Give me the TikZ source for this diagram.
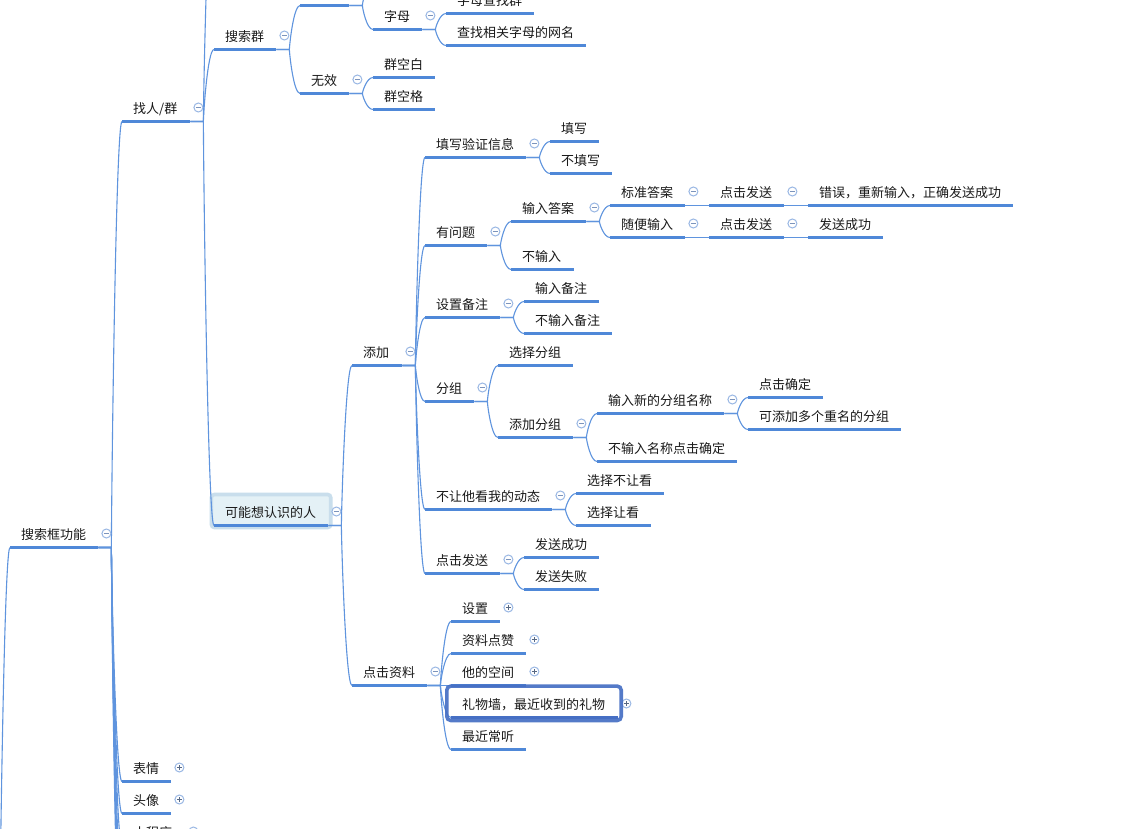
\documentclass[tikz,border=0pt]{standalone}
\usepackage{fontspec}
\setmainfont{Noto Sans CJK SC}
\usetikzlibrary{calc}
\definecolor{barblue}{HTML}{4F88D8}
\definecolor{curveblue}{HTML}{5F94DE}
\definecolor{togblue}{HTML}{9AB8E4}
\definecolor{togmark}{HTML}{7C94BC}
\definecolor{hlfill}{HTML}{E4F1F6}
\definecolor{hlline}{HTML}{C9DEEC}
\definecolor{selline}{HTML}{466FC4}
\tikzset{
  topic/.style={anchor=south west,inner xsep=11pt,inner ysep=0pt,text height=11pt,text depth=8pt,
    align=left,font=\fontsize{13pt}{13pt}\selectfont,text=black!90},
  bar/.style={draw=barblue,line width=3pt},
  curve/.style={draw=curveblue,line width=1.1pt},
  togbase/.style={circle,draw=togblue,line width=1pt,fill=white,minimum size=9pt,inner sep=0pt},
  togm/.style={togbase,path picture={\draw[togmark,line width=0.8pt]
    ([xshift=-2.6pt]path picture bounding box.center)--([xshift=2.6pt]path picture bounding box.center);}},
  togp/.style={togbase,path picture={\draw[togmark!70!black,line width=0.8pt]
    ([xshift=-2.6pt]path picture bounding box.center)--([xshift=2.6pt]path picture bounding box.center)
    ([yshift=-2.6pt]path picture bounding box.center)--([yshift=2.6pt]path picture bounding box.center);}},
  hlbox/.style={draw=hlline,fill=hlfill,line width=3.6pt,rounded corners=3pt,inner sep=0pt,anchor=north west},
  selbox/.style={draw=selline,line width=3.6pt,rounded corners=4pt,inner sep=0pt,anchor=north west,draw opacity=.92},
}
% a topic: name, bar start, bar end, bar height, text
\newcommand\topic[5]{%
  \node[topic,text width={(#3-#2-22)*1pt}] (#1) at ({#2-0.5},#4) {\mbox{#5}};
  \draw[bar] (#1.south west) -- (#1.south east);}
\newcommand\tog[2]{\node[tog#1] (#2t) at ([xshift=8pt,yshift=14pt]#2.south east) {};}
% connector between two anchors: stub, then the long curve
\newcommand\lnkraw[2]{%
  \draw[curve] let \p1=(#1), \p2=(#2), \n1={\x1+13pt} in
    (\x1,\y1) -- (\n1,\y1)
    .. controls (\n1,{\y1+0.1*(\y2-\y1)}) and ({\n1+0.4*(\x2-\n1)},\y2) .. (\x2,\y2);}
\newcommand\lnk[2]{\lnkraw{#1.south east}{#2.south west}}
\begin{document}
\begin{tikzpicture}[x=1pt,y=-1pt]
\useasboundingbox (0,0) rectangle (1127,829);
\clip (0,0) rectangle (1127,829);
\fill[white] (0,0) rectangle (1127,829);

\node[hlbox,minimum width=119.3pt,minimum height=33pt] (hl) at (209.6,492.7) {};

% free ends beyond the edge of the view
\coordinate (offroot) at (-15,1100);
\coordinate (offa) at (214,-126);
\coordinate (offb) at (373,-19);
\coordinate (offc) at (122,877);
\coordinate (offd) at (122,909);
\coordinate (offe) at (122,941);
\coordinate (offf) at (122,973);

\topic{root}{10.5}{98.5}{547.5}{搜索框功能}
\topic{find}{122.5}{190.5}{121.5}{找人/群}
\topic{qun}{214.5}{276.5}{49.5}{搜索群}
\topic{blank}{300.5}{349.5}{5.5}{}
\topic{zimu}{373.5}{422.5}{29.5}{字母}
\topic{zimua}{446.5}{534.5}{13.5}{字母查找群}
\topic{zimub}{446.5}{586.5}{45.5}{查找相关字母的网名}
\topic{wux}{300.5}{349.5}{93.5}{无效}
\topic{kb}{373.5}{435.5}{77.5}{群空白}
\topic{kg}{373.5}{435.5}{109.5}{群空格}

\topic{may}{214.5}{328.5}{525.5}{可能想认识的人}
\topic{add}{352.5}{402.5}{365.5}{添加}
\topic{info}{425.5}{526.5}{157.5}{填写验证信息}
\topic{fill}{550.5}{599.5}{141.5}{填写}
\topic{nofill}{550.5}{612.5}{173.5}{不填写}
\topic{ask}{425.5}{487.5}{245.5}{有问题}
\topic{ans}{511.5}{586.5}{221.5}{输入答案}
\topic{noans}{511.5}{574.5}{269.5}{不输入}
\topic{std}{610.5}{685.5}{205.5}{标准答案}
\topic{stda}{709.5}{784.5}{205.5}{点击发送}
\topic{err}{808.5}{1013.5}{205.5}{错误，重新输入，正确发送成功}
\topic{rnd}{610.5}{685.5}{237.5}{随便输入}
\topic{rnda}{709.5}{784.5}{237.5}{点击发送}
\topic{rndb}{808.5}{883.5}{237.5}{发送成功}
\topic{memo}{425.5}{500.5}{317.5}{设置备注}
\topic{memoa}{524.5}{599.5}{301.5}{输入备注}
\topic{memob}{524.5}{612.5}{333.5}{不输入备注}
\topic{grp}{425.5}{474.5}{401.5}{分组}
\topic{grpa}{498.5}{573.5}{365.5}{选择分组}
\topic{grpb}{498.5}{573.5}{437.5}{添加分组}
\topic{name}{597.5}{724.5}{413.5}{输入新的分组名称}
\topic{namea}{748.5}{823.5}{397.5}{点击确定}
\topic{nameb}{748.5}{901.5}{429.5}{可添加多个重名的分组}
\topic{noname}{597.5}{737.5}{461.5}{不输入名称点击确定}
\topic{dyn}{425.5}{552.5}{509.5}{不让他看我的动态}
\topic{dyna}{576.5}{664.5}{493.5}{选择不让看}
\topic{dynb}{576.5}{651.5}{525.5}{选择让看}
\topic{send}{425.5}{500.5}{573.5}{点击发送}
\topic{senda}{524.5}{599.5}{557.5}{发送成功}
\topic{sendb}{524.5}{599.5}{589.5}{发送失败}
\topic{prof}{352.5}{427.5}{685.5}{点击资料}
\topic{set}{451.5}{500.5}{621.5}{设置}
\topic{like}{451.5}{526.5}{653.5}{资料点赞}
\topic{space}{451.5}{526.5}{685.5}{他的空间}
\topic{gift}{451.5}{618.5}{717.5}{礼物墙，最近收到的礼物}
\topic{music}{451.5}{526.5}{749.5}{最近常听}
\topic{face}{122.5}{171.5}{781.5}{表情}
\topic{head}{122.5}{171.5}{813.5}{头像}
\topic{mini}{122.5}{185.5}{845.5}{小程序}

\lnkraw{offroot}{root.south west}
\lnk{root}{find}
\lnk{root}{face}
\lnk{root}{head}
\lnk{root}{mini}
\lnkraw{root.south east}{offc}
\lnkraw{root.south east}{offd}
\lnkraw{root.south east}{offe}
\lnkraw{root.south east}{offf}
\lnkraw{find.south east}{offa}
\lnk{find}{qun}
\lnk{find}{may}
\lnk{qun}{blank}
\lnk{qun}{wux}
\lnkraw{blank.south east}{offb}
\lnk{blank}{zimu}
\lnk{zimu}{zimua}
\lnk{zimu}{zimub}
\lnk{wux}{kb}
\lnk{wux}{kg}
\lnk{may}{add}
\lnk{may}{prof}
\lnk{add}{info}
\lnk{add}{ask}
\lnk{add}{memo}
\lnk{add}{grp}
\lnk{add}{dyn}
\lnk{add}{send}
\lnk{info}{fill}
\lnk{info}{nofill}
\lnk{ask}{ans}
\lnk{ask}{noans}
\lnk{ans}{std}
\lnk{ans}{rnd}
\lnk{std}{stda}
\lnk{stda}{err}
\lnk{rnd}{rnda}
\lnk{rnda}{rndb}
\lnk{memo}{memoa}
\lnk{memo}{memob}
\lnk{grp}{grpa}
\lnk{grp}{grpb}
\lnk{grpb}{name}
\lnk{grpb}{noname}
\lnk{name}{namea}
\lnk{name}{nameb}
\lnk{dyn}{dyna}
\lnk{dyn}{dynb}
\lnk{send}{senda}
\lnk{send}{sendb}
\lnk{prof}{set}
\lnk{prof}{like}
\lnk{prof}{space}
\lnk{prof}{gift}
\lnk{prof}{music}

\tog{m}{root}\tog{m}{find}\tog{m}{qun}\tog{m}{zimu}\tog{m}{wux}
\tog{m}{may}\tog{m}{add}\tog{m}{info}\tog{m}{ask}\tog{m}{ans}
\tog{m}{std}\tog{m}{stda}\tog{m}{rnd}\tog{m}{rnda}\tog{m}{memo}
\tog{m}{grp}\tog{m}{grpb}\tog{m}{name}\tog{m}{dyn}\tog{m}{send}
\tog{m}{prof}\tog{m}{mini}
\tog{p}{set}\tog{p}{like}\tog{p}{space}\tog{p}{gift}\tog{p}{face}\tog{p}{head}

\draw[selline,line width=3pt] (gift.south west) -- (gift.south east);
\node[selbox,minimum width=174.4pt,minimum height=34.4pt] (sel) at (445,684.3) {};
\end{tikzpicture}
\end{document}
